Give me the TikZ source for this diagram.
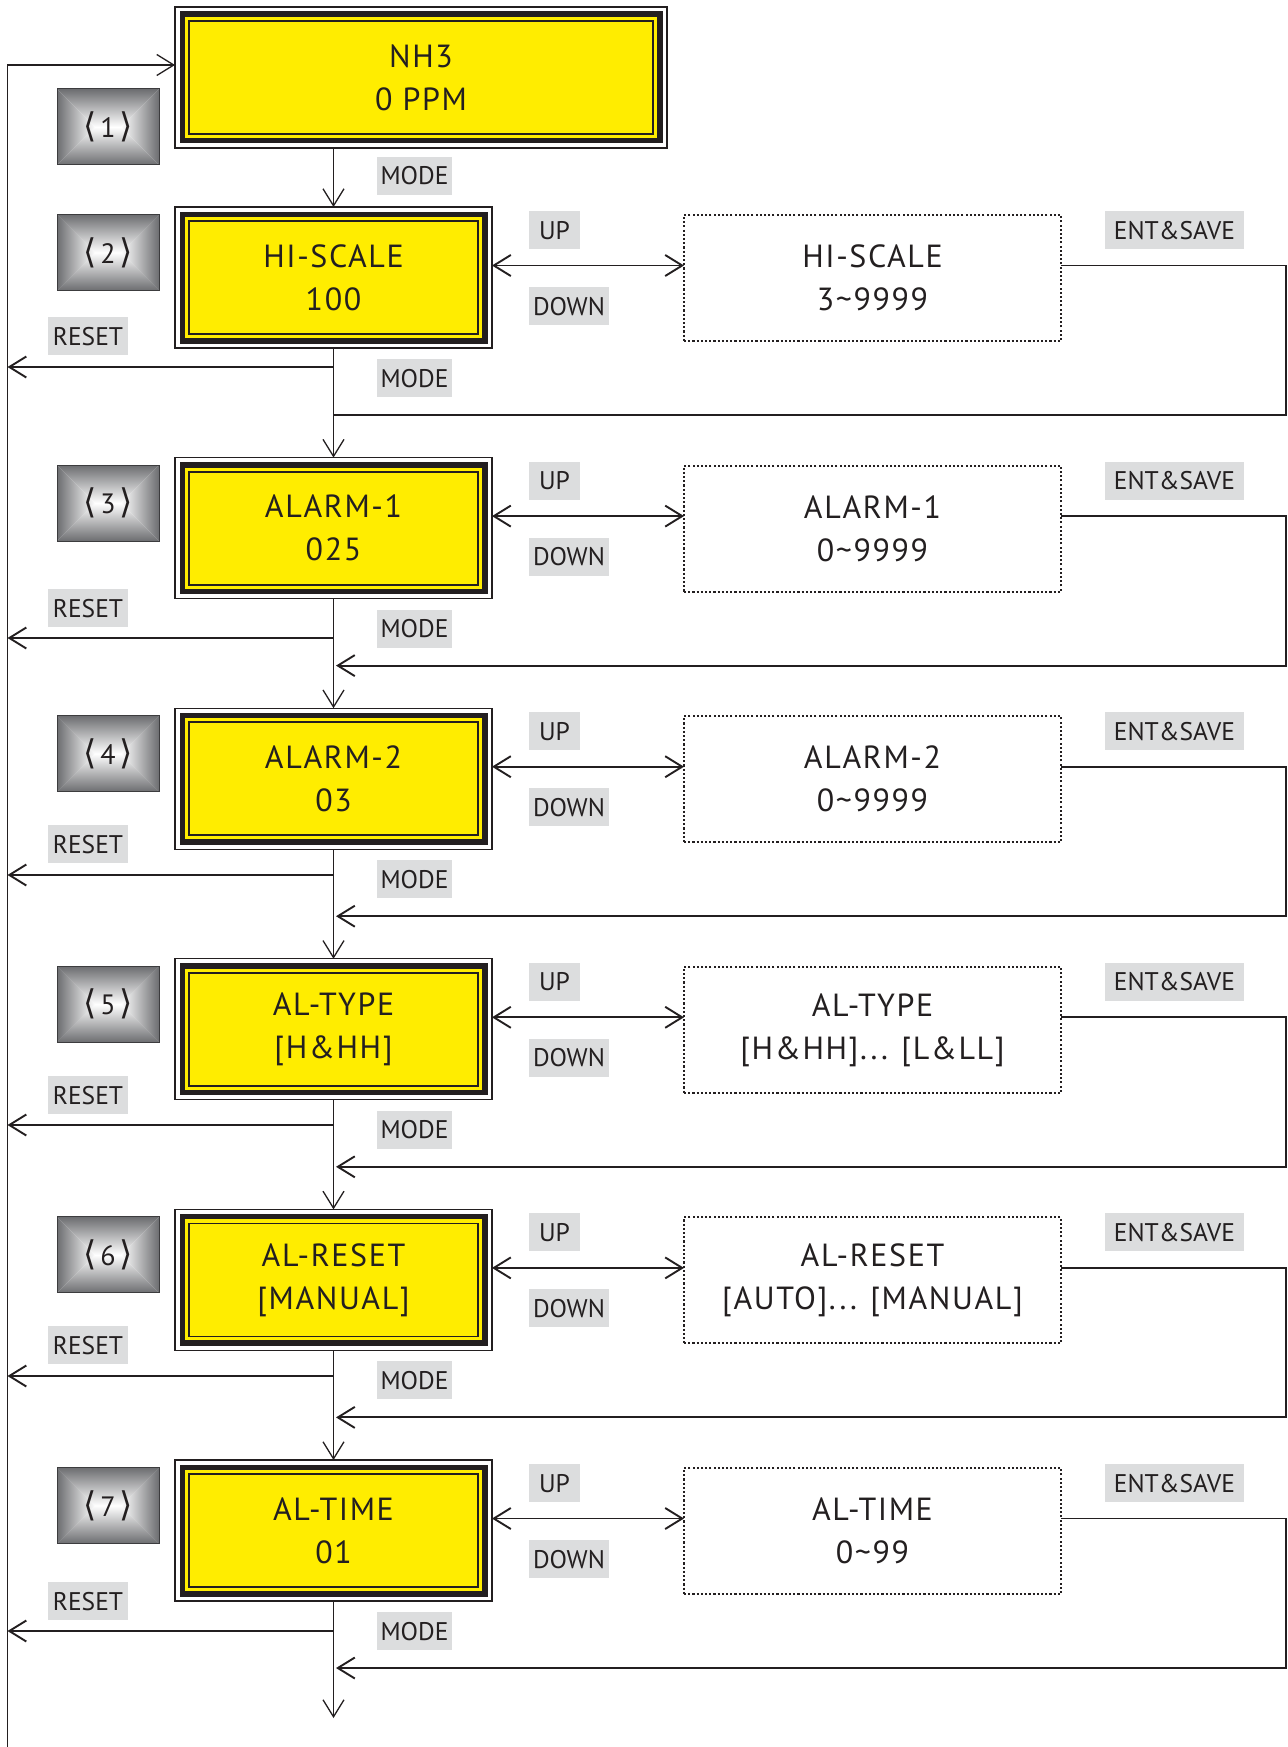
\documentclass[tikz,border=0pt]{standalone}
\usepackage{fontspec}
\setmainfont{PT Sans}
\newfontfamily\boxfam{PT Sans}[LetterSpace=5]
\newfontfamily\brkfam{DejaVu Sans}
\usetikzlibrary{arrows.meta,calc}
\definecolor{lcdyellow}{RGB}{255,237,0}
\definecolor{linec}{RGB}{35,31,32}
\definecolor{labgray}{RGB}{220,221,222}
\definecolor{btngray}{RGB}{108,109,112}
\definecolor{btnedge}{RGB}{60,60,62}
\newcommand{\btnlabel}[1]{{\brkfam\fontsize{34}{34}\selectfont ⟨}\hspace{4pt}{\fontsize{28}{28}\selectfont #1}\hspace{4pt}{\brkfam\fontsize{34}{34}\selectfont ⟩}}
\begin{document}
\begin{tikzpicture}[x=1pt,y=1pt,
  >={Straight Barb[length=17pt,width=21pt]},
  vline/.style={draw=linec, line width=1.3pt},
  hline/.style={draw=linec, line width=1.9pt},
  lcd/.style={draw=linec, line width=1.2pt, fill=white, inner sep=0pt, outer sep=0pt,
    align=center, text=linec, font=\boxfam\fontsize{32}{43}\selectfont,
    path picture={
      \fill[linec] ($(path picture bounding box.north west)+(4.5,-4.5)$) rectangle ($(path picture bounding box.south east)+(-4.5,4.5)$);
      \fill[lcdyellow] ($(path picture bounding box.north west)+(10,-10)$) rectangle ($(path picture bounding box.south east)+(-10,10)$);
      \draw[linec, line width=1.8pt] ($(path picture bounding box.north west)+(14,-14)$) rectangle ($(path picture bounding box.south east)+(-14,14)$);
    }},
  dotbox/.style={draw=linec, line width=2pt, dash pattern=on 2.1pt off 2.1pt,
    minimum width=377pt, minimum height=126pt, inner sep=0pt, outer sep=0pt,
    align=center, text=linec, font=\boxfam\fontsize{32}{43}\selectfont},
  btn/.style={minimum width=102pt, minimum height=76pt, inner sep=0pt, outer sep=0pt,
    draw=btnedge, line width=1pt, text=linec,
    path picture={
      \coordinate (bNW) at (path picture bounding box.north west);
      \coordinate (bNE) at (path picture bounding box.north east);
      \coordinate (bSW) at (path picture bounding box.south west);
      \coordinate (bSE) at (path picture bounding box.south east);
      \coordinate (bC) at (path picture bounding box.center);
      \coordinate (bR1) at ($(bC)+(-13,0)$);
      \coordinate (bR2) at ($(bC)+(13,0)$);
      \shade[top color=btngray, bottom color=white] (bNW) -- (bNE) -- (bR2) -- (bR1) -- cycle;
      \shade[top color=white, bottom color=btngray] (bSW) -- (bSE) -- (bR2) -- (bR1) -- cycle;
      \shade[left color=btngray, right color=white] (bNW) -- (bR1) -- (bSW) -- cycle;
      \shade[left color=white, right color=btngray] (bNE) -- (bR2) -- (bSE) -- cycle;
    }},
  lab/.style={fill=labgray, inner sep=0pt, outer sep=0pt, minimum height=38pt,
    text height=18pt, text depth=0pt, anchor=north west, text=linec,
    font=\fontsize{25.5}{25.5}\selectfont}
]
\useasboundingbox (0,0) rectangle (1287,-1747);

\coordinate (lbot) at (7.5,-1747);
\coordinate (ltop) at (7.5,-65);
\coordinate (endarrow) at (333.5,-1718);

\node[lcd, minimum width=492pt, minimum height=141pt, anchor=north west] (box1) at (175,-7) {NH3\\0 PPM};
\node[btn, anchor=north west] (btn1) at (57,-89) {\btnlabel{1}};
\node[lab, minimum width=75pt] (mode1) at (377,-157) {MODE};

\foreach \k/\ty/\ma/\mb/\da/\db/\rt/\ry in {
  2/207/HI-SCALE/100/HI-SCALE/3\textasciitilde 9999/317/367,
  3/457.6/ALARM-1/025/ALARM-1/0\textasciitilde 9999/589/638,
  4/708.2/ALARM-2/03/ALARM-2/0\textasciitilde 9999/825/875,
  5/958.8/AL-TYPE/{[H\&HH]}/AL-TYPE/{[H\&HH]... [L\&LL]}/1076/1125,
  6/1209.4/AL-RESET/{[MANUAL]}/AL-RESET/{[AUTO]... [MANUAL]}/1326/1376,
  7/1460/AL-TIME/01/AL-TIME/0\textasciitilde 99/1582/1631}{
  \node[lcd, minimum width=317pt, minimum height=141pt, anchor=north west] (box\k) at (175,-\ty) {\ma\\{}\mb};
  \node[btn, anchor=north west] (btn\k) at (57,{-\ty-7.5}) {\btnlabel{\k}};
  \node[lab, minimum width=51pt] (up\k) at (529,{-\ty-4}) {UP};
  \node[lab, minimum width=80pt] (down\k) at (529,{-\ty-80}) {DOWN};
  \node[dotbox, anchor=north west] (dot\k) at (684,{-\ty-8}) {\da\\{}\db};
  \node[lab, minimum width=139pt] (ent\k) at (1105,{-\ty-4}) {ENT\&SAVE};
  \node[lab, minimum width=80pt] (reset\k) at (48,-\rt) {RESET};
  \node[lab, minimum width=75pt] (mode\k) at (377,{-\ty-152}) {MODE};
  \coordinate (ud\k) at (0,{-\ty-58.5});
  \coordinate (ret\k) at (1286,{-\ty-208});
  \coordinate (rs\k) at (0,-\ry);
  \draw[hline,<->] (box\k.east |- ud\k) -- (dot\k.west |- ud\k);
  \draw[hline,->] (box\k.south |- rs\k) -- (lbot |- rs\k);
  \ifnum\k=2
    \draw[hline] (dot\k.east |- ud\k) -- (ret\k |- ud\k) -- (ret\k) -- (box\k.south |- ret\k);
  \else
    \draw[hline,->] (dot\k.east |- ud\k) -- (ret\k |- ud\k) -- (ret\k) -- ([xshift=2.5pt]box\k.south |- ret\k);
  \fi
}

\draw[vline,->] (box1.south -| box2.north) -- (box2.north);
\foreach \k/\n in {2/3,3/4,4/5,5/6,6/7}{
  \draw[vline,->] (box\k.south) -- (box\n.north);
}
\draw[vline,->] (box7.south) -- (endarrow);
\draw[vline,->] (lbot) -- (ltop) -- (ltop -| box1.west);
\end{tikzpicture}
\end{document}
